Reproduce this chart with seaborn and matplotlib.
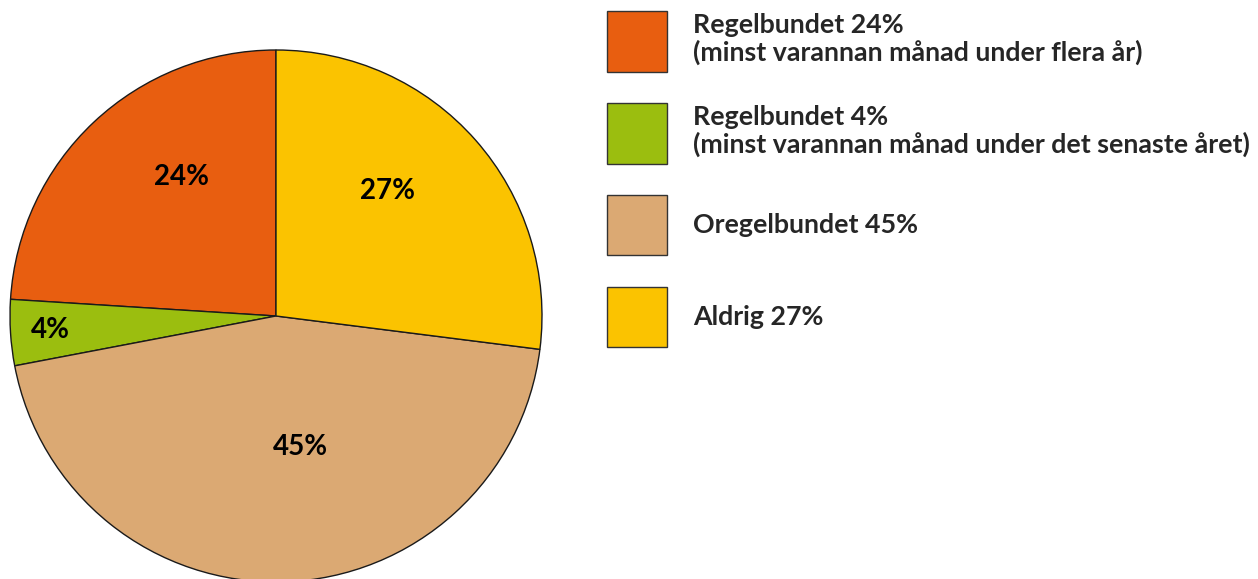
import matplotlib
matplotlib.use("Agg")
import matplotlib.pyplot as plt
import seaborn as sns
import numpy as np

sns.set_theme(style="white")
plt.rcParams['font.family'] = ['Lato', 'DejaVu Sans']

# data
categories = ['Regelbundet 24%\n(minst varannan månad under flera år)',
              'Regelbundet 4%\n(minst varannan månad under det senaste året)',
              'Oregelbundet 45%',
              'Aldrig 27%']
shares = [24, 4, 45, 27]
colors = ['#E85E10', '#9BBE0F', '#DBA973', '#FBC300']

# label placement (radius fraction, angle offset in degrees)
label_dist = [0.63, 0.85, 0.50, 0.63]
label_shift = [-9, 0, 9, 7]

fig = plt.figure(figsize=(12.58, 5.79), dpi=100)
W, H = 1258, 579
cx, cy, r = 276, 316, 266
ax = fig.add_axes([(cx - r) / W, (H - cy - r) / H, 2 * r / W, 2 * r / H])

wedges, texts, autotexts = ax.pie(
    shares, colors=colors, startangle=90, counterclock=True,
    autopct=lambda p: f'{p:.0f}%', radius=1,
    wedgeprops=dict(edgecolor='#1a1a1a', linewidth=1.0),
    textprops=dict(fontsize=20, fontweight='bold', color='black'))
ax.set_xlim(-1, 1)
ax.set_ylim(-1, 1)
ax.set_aspect('equal')
ax.axis('off')

for w, t, d, s in zip(wedges, autotexts, label_dist, label_shift):
    a = np.deg2rad((w.theta1 + w.theta2) / 2 + s)
    t.set_position((d * np.cos(a), d * np.sin(a)))
    t.set_ha('center')
    t.set_va('center')

fs = 19.3
leg = fig.legend(wedges, categories, loc='upper left',
                 bbox_to_anchor=(607 / W, 1 - 11 / H),
                 frameon=False, prop=dict(weight='bold', size=fs),
                 handlelength=2.24, handleheight=3.1, handletextpad=0.98,
                 labelspacing=1.17, borderpad=0, borderaxespad=0)
for h in leg.legend_handles:
    h.set_edgecolor('#333333')
    h.set_linewidth(1.0)
for t in leg.get_texts():
    t.set_linespacing(1.15)

fig.savefig('out.png', dpi=100)
